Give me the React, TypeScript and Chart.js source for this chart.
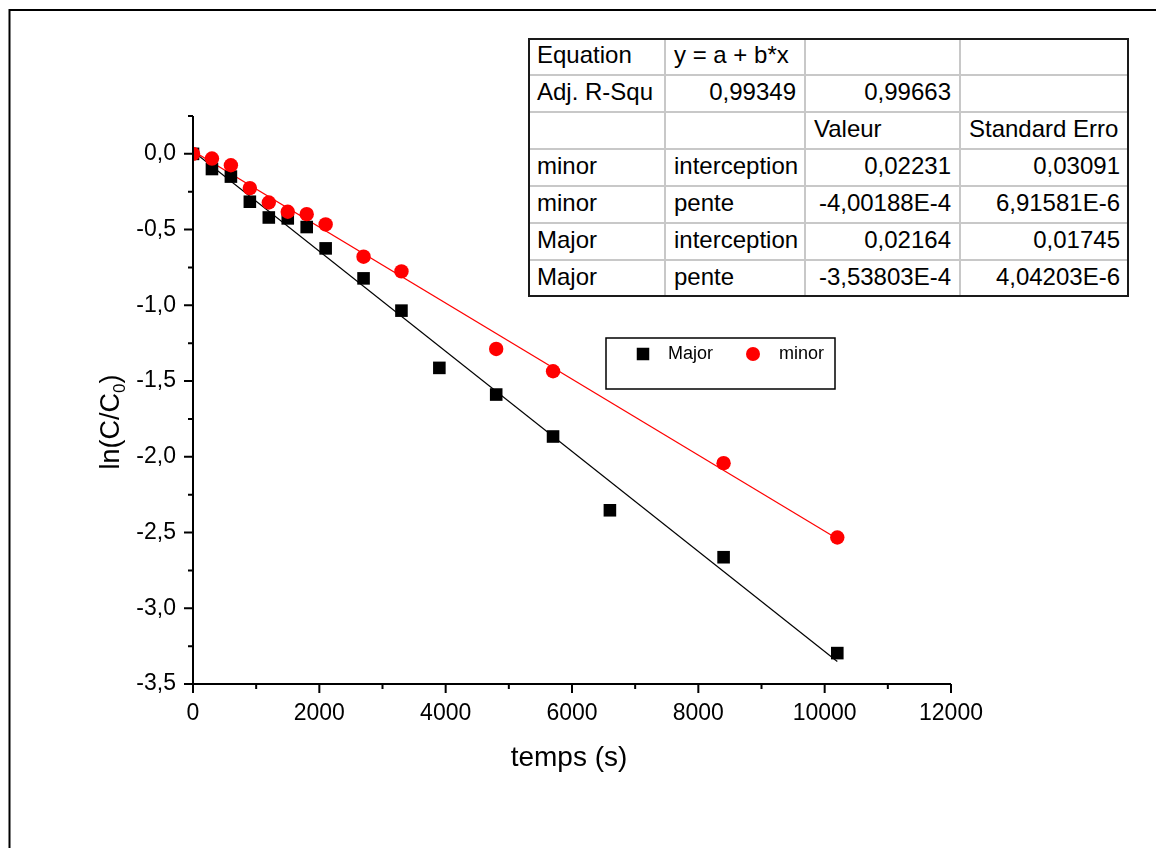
import React, { useEffect, useRef } from "react";
import { Chart, registerables } from "chart.js";

Chart.register(...registerables);

// ---------- data ----------
const timeMajor = [0, 300, 600, 900, 1200, 1500, 1800, 2100, 2700, 3300, 3900, 4800, 5700, 6600, 8400, 10200];
const lnMajor = [0, -0.1, -0.15, -0.316, -0.42, -0.426, -0.483, -0.624, -0.822, -1.035, -1.413, -1.589, -1.866, -2.353, -2.663, -3.296];
const timeMinor = [0, 300, 600, 900, 1200, 1500, 1800, 2100, 2700, 3300, 4800, 5700, 8400, 10200];
const lnMinor = [0, -0.031, -0.075, -0.226, -0.321, -0.382, -0.398, -0.466, -0.679, -0.776, -1.288, -1.435, -2.042, -2.533];
const fitRange = [0, 10200];

const seriesNames = ["Major", "minor"];
const seriesColors = ["#000000", "#ff0000"];

const xMin = 0;
const xMax = 12000;
const yMin = -3.5;
const yMax = 0.25;

const tableRows = [
  ["Equation", "y = a + b*x", "", ""],
  ["Adj. R-Squ", "0,99349", "0,99663", ""],
  ["", "", "Valeur", "Standard Erro"],
  ["minor", "interception", "0,02231", "0,03091"],
  ["minor", "pente", "-4,00188E-4", "6,91581E-6"],
  ["Major", "interception", "0,02164", "0,01745"],
  ["Major", "pente", "-3,53803E-4", "4,04203E-6"],
];

const xTitle = "temps (s)";

const FONT = '"Liberation Sans", Arial, Helvetica, sans-serif';

function linFit(xs: number[], ys: number[]) {
  const n = xs.length;
  let sx = 0, sy = 0, sxx = 0, sxy = 0;
  for (let i = 0; i < n; i++) {
    sx += xs[i];
    sy += ys[i];
    sxx += xs[i] * xs[i];
    sxy += xs[i] * ys[i];
  }
  const b = (n * sxy - sx * sy) / (n * sxx - sx * sx);
  const a = (sy - b * sx) / n;
  return { a, b };
}

function isMajorY(v: number) {
  return Math.abs(v * 2 - Math.round(v * 2)) < 1e-6;
}
function isMajorX(v: number) {
  return Math.abs(v / 2000 - Math.round(v / 2000)) < 1e-6;
}

const decorPlugin = {
  id: "originDecor",
  afterDraw(chart: any) {
    const { ctx, chartArea } = chart;
    const xs = chart.scales.x;
    const ys = chart.scales.y;
    ctx.save();
    ctx.strokeStyle = "#000";
    ctx.lineWidth = 2;
    // page frame
    ctx.beginPath();
    ctx.moveTo(1.5, chart.height);
    ctx.lineTo(1.5, 2);
    ctx.lineTo(chart.width, 2);
    ctx.stroke();

    // axes
    const left = chartArea.left;
    const bottom = chartArea.bottom;
    ctx.beginPath();
    ctx.moveTo(left, chartArea.top);
    ctx.lineTo(left, bottom);
    ctx.lineTo(chartArea.right, bottom);
    for (const t of ys.ticks) {
      const p = ys.getPixelForValue(t.value);
      ctx.moveTo(left, p);
      ctx.lineTo(left - (isMajorY(t.value) ? 9 : 5), p);
    }
    for (const t of xs.ticks) {
      const p = xs.getPixelForValue(t.value);
      ctx.moveTo(p, bottom);
      ctx.lineTo(p, bottom + (isMajorX(t.value) ? 9 : 5));
    }
    ctx.stroke();

    // x title
    ctx.fillStyle = "#000";
    ctx.font = `28px ${FONT}`;
    ctx.textAlign = "center";
    ctx.textBaseline = "middle";
    ctx.fillText(xTitle, (chartArea.left + chartArea.right) / 2 - 3, 750);

    // y title ln(C/C0)
    ctx.save();
    ctx.translate(111, 414);
    ctx.rotate(-Math.PI / 2);
    ctx.textAlign = "left";
    ctx.textBaseline = "alphabetic";
    const mainFont = `27px ${FONT}`;
    const subFont = `17px ${FONT}`;
    ctx.font = mainFont;
    const w1 = ctx.measureText("ln(C/C").width;
    const w3 = ctx.measureText(")").width;
    ctx.font = subFont;
    const w2 = ctx.measureText("0").width;
    let x0 = -(w1 + w2 + w3) / 2;
    ctx.font = mainFont;
    ctx.fillText("ln(C/C", x0, 0);
    x0 += w1;
    ctx.font = subFont;
    ctx.fillText("0", x0, 6);
    x0 += w2;
    ctx.font = mainFont;
    ctx.fillText(")", x0, 0);
    ctx.restore();

    // legend box
    const lx = 598, ly = 330, lw = 229, lh = 51;
    ctx.lineWidth = 1.5;
    ctx.strokeRect(lx, ly, lw, lh);
    const cy = 346;
    ctx.fillStyle = seriesColors[0];
    ctx.fillRect(635 - 6.25, cy - 6.25, 12.5, 12.5);
    ctx.fillStyle = seriesColors[1];
    ctx.beginPath();
    ctx.arc(745, cy, 7, 0, Math.PI * 2);
    ctx.fill();
    ctx.fillStyle = "#000";
    ctx.font = `18px ${FONT}`;
    ctx.textAlign = "left";
    ctx.textBaseline = "middle";
    ctx.fillText(seriesNames[0], 660, cy);
    ctx.fillText(seriesNames[1], 771, cy);
    ctx.restore();
  },
};

function ResultTable() {
  const colX = [0, 137, 277, 432, 601];
  const rowH = 37;
  const cells: any[] = [];
  tableRows.forEach((row, r) => {
    row.forEach((txt, c) => {
      if (!txt) return;
      const numeric = /^-?[0-9]/.test(txt);
      cells.push(
        <div
          key={`${r}-${c}`}
          style={{
            position: "absolute",
            left: colX[c],
            top: r * rowH - 2,
            width: colX[c + 1] - colX[c],
            height: rowH,
            lineHeight: `${rowH}px`,
            textAlign: numeric ? "right" : "left",
            paddingLeft: 9,
            paddingRight: 9,
            boxSizing: "border-box",
            whiteSpace: "nowrap",
            overflow: "hidden",
          }}
        >
          {txt}
        </div>
      );
    });
  });
  const lines: any[] = [];
  for (let i = 1; i < colX.length - 1; i++) {
    lines.push(
      <div key={`v${i}`} style={{ position: "absolute", left: colX[i] - 1, top: 0, width: 2, height: rowH * 7, background: "#c8c8c8" }} />
    );
  }
  for (let r = 1; r < 7; r++) {
    lines.push(
      <div key={`h${r}`} style={{ position: "absolute", left: 0, top: r * rowH - 1, width: colX[4], height: 2, background: "#c8c8c8" }} />
    );
  }
  return (
    <div
      style={{
        position: "absolute",
        left: 520,
        top: 30,
        width: 601,
        height: 259,
        fontFamily: FONT,
        fontSize: 24,
        color: "#000",
        background: "#fff",
      }}
    >
      {lines}
      {cells}
      <div style={{ position: "absolute", inset: 0, border: "2px solid #1a1a1a", boxSizing: "border-box" }} />
    </div>
  );
}

export default function App() {
  const canvasRef = useRef<HTMLCanvasElement | null>(null);

  useEffect(() => {
    if (!canvasRef.current) return;
    const fitMajor = linFit(timeMajor, lnMajor);
    const fitMinor = linFit(timeMinor, lnMinor);
    const chart = new Chart(canvasRef.current, {
      type: "scatter",
      data: {
        datasets: [
          {
            label: seriesNames[1],
            data: timeMinor.map((t, i) => ({ x: t, y: lnMinor[i] })),
            backgroundColor: seriesColors[1],
            borderColor: seriesColors[1],
            borderWidth: 0,
            pointStyle: "circle",
            pointRadius: 7.2,
            order: 0,
          },
          {
            label: seriesNames[0],
            data: timeMajor.map((t, i) => ({ x: t, y: lnMajor[i] })),
            backgroundColor: seriesColors[0],
            borderColor: seriesColors[0],
            borderWidth: 0,
            pointStyle: "rect",
            pointRadius: 8.9,
            order: 1,
          },
          {
            label: "fit minor",
            type: "line",
            data: fitRange.map((t) => ({ x: t, y: fitMinor.a + fitMinor.b * t })),
            borderColor: seriesColors[1],
            borderWidth: 1.2,
            pointRadius: 0,
            showLine: true,
            order: 2,
          } as any,
          {
            label: "fit Major",
            type: "line",
            data: fitRange.map((t) => ({ x: t, y: fitMajor.a + fitMajor.b * t })),
            borderColor: seriesColors[0],
            borderWidth: 1.2,
            pointRadius: 0,
            showLine: true,
            order: 3,
          } as any,
        ],
      },
      options: {
        animation: false,
        responsive: false,
        maintainAspectRatio: false,
        devicePixelRatio: 1,
        layout: { padding: { left: 0, top: 108, right: 213, bottom: 72 } },
        plugins: {
          legend: { display: false },
          tooltip: { enabled: false },
          title: { display: false },
        },
        scales: {
          x: {
            type: "linear",
            min: xMin,
            max: xMax,
            grid: { display: false, drawTicks: false },
            border: { display: false },
            afterFit: (s: any) => {
              s.height = 100;
            },
            ticks: {
              stepSize: 1000,
              autoSkip: false,
              maxRotation: 0,
              padding: 16,
              color: "#000",
              font: { family: FONT, size: 23 },
              callback: (v: any) => (isMajorX(Number(v)) ? String(v) : ""),
            },
          },
          y: {
            type: "linear",
            min: yMin,
            max: yMax,
            grid: { display: false, drawTicks: false },
            border: { display: false },
            afterFit: (s: any) => {
              s.width = 185;
            },
            ticks: {
              stepSize: 0.25,
              autoSkip: false,
              padding: 17,
              color: "#000",
              font: { family: FONT, size: 23 },
              callback: (v: any) => {
                const n = Number(v);
                return isMajorY(n) ? n.toFixed(1).replace(".", ",") : "";
              },
            },
          },
        },
      },
      plugins: [decorPlugin],
    });
    return () => chart.destroy();
  }, []);

  return (
    <div style={{ position: "relative", width: 1156, height: 848, marginBottom: -8, overflow: "hidden", background: "#fff" }}>
      <canvas ref={canvasRef} width={1156} height={848} style={{ position: "absolute", left: 0, top: 0, width: 1156, height: 848 }} />
      <ResultTable />
    </div>
  );
}
